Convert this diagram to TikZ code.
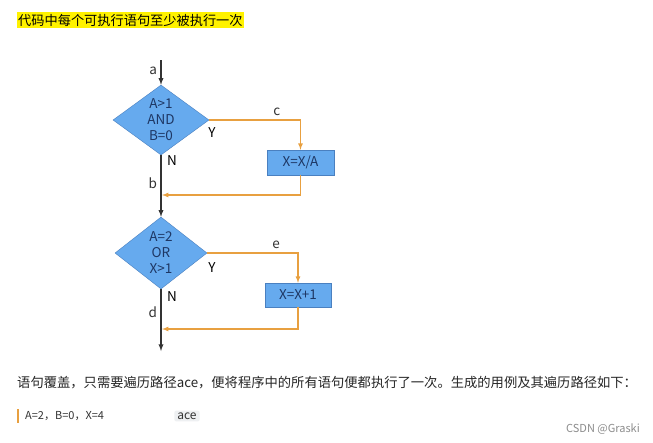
\documentclass[tikz,border=0pt]{standalone}
\usepackage{fontspec}
\setmainfont{Noto Sans CJK SC}
\usepackage{tikz}
\usetikzlibrary{shapes,arrows,positioning,calc}
\definecolor{flowblue}{RGB}{102, 170, 238}
\definecolor{flowedge}{RGB}{74, 128, 192}
\definecolor{flowtext}{RGB}{30, 55, 100}
\definecolor{pathorange}{RGB}{232, 160, 64}
\definecolor{chipgray}{RGB}{238, 240, 242}

\begin{document}
\begin{tikzpicture}[x=1pt,y=-1pt,>=latex,every node/.style={font=\fontsize{13.5}{16}\selectfont}]
\useasboundingbox[fill=white](0,0) rectangle (653,442);
% title
\node[fill=yellow,anchor=west,inner xsep=1pt,inner ysep=2pt,font=\fontsize{13.2}{16}\selectfont](title) at (17,20){代码中每个可执行语句至少被执行一次};
% flow chart
\coordinate(top) at (161,60);
\node[draw=flowedge,fill=flowblue,text=flowtext,diamond,aspect=1.37,minimum width=96pt,minimum height=70pt,inner sep=0pt,align=center](dec1) at (161,120){A>1\\AND\\B=0};
\node[draw=flowedge,fill=flowblue,text=flowtext,minimum width=67pt,minimum height=25pt,inner sep=0pt](stm1) at (300.5,162.5){X=X/A};
\coordinate(join1) at (162,195);
\node[draw=flowedge,fill=flowblue,text=flowtext,diamond,aspect=1.30,minimum width=92pt,minimum height=72pt,inner sep=0pt,align=center](dec2) at (161,253){A=2\\OR\\X>1};
\node[draw=flowedge,fill=flowblue,text=flowtext,minimum width=66pt,minimum height=24pt,inner sep=0pt](stm2) at (298,295){X=X+1};
\coordinate(join2) at (162,329);
\coordinate(bot) at (161,351);
\node(y1) at (212,133){Y}; \node(n1) at (172,161){N};
\node(y2) at (212,268){Y}; \node(n2) at (172,297){N};
\draw[->,line width=1.3pt,black!80](top)--node[left,pos=0.45]{a}(dec1.north);
\draw[->,line width=1.3pt,black!80](dec1.south)--node[left,pos=0.45]{b}(dec2.north);
\draw[->,line width=1.3pt,black!80](dec2.south)--node[left,pos=0.37]{d}(bot);
\draw[->,line width=1.2pt,pathorange](dec1.east)-|node[above,pos=0.37,black!80]{c}(stm1.north);
\draw[->,line width=1.2pt,pathorange](stm1.south)|-(join1);
\draw[->,line width=1.2pt,pathorange](dec2.east)-|node[above,pos=0.38,black!80]{e}(stm2.north);
\draw[->,line width=1.2pt,pathorange](stm2.south)|-(join2);
% text below
\node[anchor=west,inner sep=0pt,font=\fontsize{13.3}{15}\selectfont,black!85](para) at (17,383){语句覆盖，只需要遍历路径ace，便将程序中的所有语句便都执行了一次。生成的用例及其遍历路径如下：};
\draw[pathorange,line width=1.2pt](18,409)--(18,423);
\node[anchor=west,inner sep=0pt,font=\fontsize{11}{13}\selectfont,black!80](case) at (25,416){A=2，B=0，X=4};
\node[fill=chipgray,rounded corners=2pt,inner xsep=3pt,inner ysep=2pt,text=black!80,font=\fontsize{12}{13}\selectfont](ace) at (187,416){ace};
\node[anchor=east,inner sep=0pt,font=\fontsize{11}{12}\selectfont,black!45](mark) at (640,429){CSDN @Graski};
\end{tikzpicture}
\end{document}
